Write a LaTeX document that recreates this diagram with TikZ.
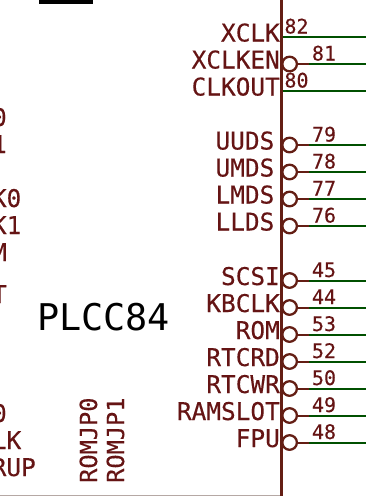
\documentclass[tikz,border=0pt]{standalone}
\usepackage{fontspec}
\setmainfont{DejaVu Sans Mono}
\definecolor{pintext}{HTML}{651414}
\definecolor{body}{HTML}{641E14}
\definecolor{wire}{HTML}{005000}
\definecolor{edgeline}{HTML}{B5A8A4}
\tikzset{
  x=1pt,y=-1pt,
  pinname/.style={text=pintext,font=\fontsize{24.4}{24.4}\selectfont\addfontfeature{FakeBold=0.3},inner sep=0pt,anchor=base east},
  rotname/.style={text=pintext,font=\fontsize{23.6}{23.6}\selectfont\addfontfeature{FakeBold=0.3},inner sep=0pt,rotate=90,anchor=base west},
  pinnum/.style={text=pintext,font=\fontsize{20}{20}\selectfont\addfontfeature{FakeBold=0.3},inner sep=0pt,anchor=base},
  bubble/.style={circle,draw=body,line width=2.3pt,minimum size=14.6pt,inner sep=0pt},
  stub/.style={draw=body,line width=2pt},
  wireline/.style={draw=wire,line width=2pt},
  bodyline/.style={draw=body,line width=2.6pt},
}
\begin{document}
\begin{tikzpicture}
\useasboundingbox (0,0) rectangle (366,496);
\begin{scope}
\clip (0,0) rectangle (366,496);
\fill[black] (39,0) rectangle (93,4);
\draw[edgeline,line width=1pt] (0,495.5) -- (281,495.5);
\draw[bodyline] (281.5,0) -- (281.5,496);
% inverted pins
\foreach \n/\lab/\num/\yy/\lx in {
 xclken/XCLKEN/81/64/280,
 uuds/UUDS/79/145/274.5,
 umds/UMDS/78/172/274.5,
 lmds/LMDS/77/199/274.5,
 llds/LLDS/76/226/274.5,
 scsi/SCSI/45/280.5/280,
 kbclk/KBCLK/44/307.5/280,
 rom/ROM/53/334.5/280,
 rtcrd/RTCRD/52/361.5/280,
 rtcwr/RTCWR/50/388.5/280,
 ramslot/RAMSLOT/49/415.5/280,
 fpu/FPU/48/442.5/280}{
  \node[pinname] (name\n) at (\lx,\yy+4.5) {\lab};
  \coordinate (mid\n) at (309,\yy);
  \coordinate (end\n) at (366,\yy);
  \draw[wireline] (mid\n) -- (end\n);
  \node[bubble] (bub\n) at (289.6,\yy) {};
  \draw[stub] (bub\n.east) -- (mid\n);
  \node[pinnum] (num\n) at (324,\yy-3.5) {\num};
}
% plain pins
\foreach \n/\lab/\num/\yy in {
 xclk/XCLK/82/37,
 clkout/CLKOUT/80/91}{
  \node[pinname] (name\n) at (280,\yy+4.5) {\lab};
  \coordinate (start\n) at (282.5,\yy);
  \coordinate (end\n) at (366,\yy);
  \draw[wireline] (start\n) -- (end\n);
  \node[pinnum] (num\n) at (296.5,\yy-3.5) {\num};
}
% left labels, cut off by the picture's edge
\foreach \n/\lab/\xx/\yy in {
 a/D0/7/126, b/D1/7/153, c/CK0/21.5/207, d/CK1/21.5/234, e/M/7/261, f/T/7/303, g/D0/7/422, h/CLK/21.5/449, i/ARUP/36/476}{
  \node[pinname] (left\n) at (\xx,\yy) {\lab};
}
\node[rotname] (romjp0) at (97,483) {ROMJP0};
\node[rotname] (romjp1) at (124,483) {ROMJP1};
\node[text=black,font=\fontsize{36.8}{36.8}\selectfont,inner sep=0pt,anchor=base west] (part) at (37,330) {PLCC84};
\end{scope}
\end{tikzpicture}
\end{document}
